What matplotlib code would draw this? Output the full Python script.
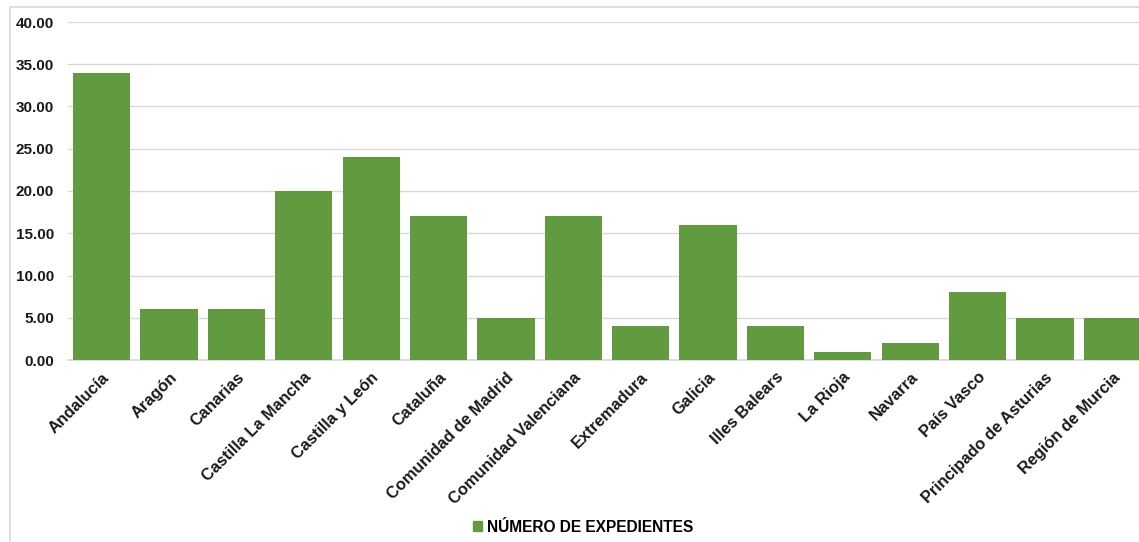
"""
Número de expedientes por comunidad autónoma
"""

import matplotlib
matplotlib.use("Agg")
import matplotlib.pyplot as plt
import numpy as np
from matplotlib.patches import Rectangle

plt.rcParams["font.family"] = ["Liberation Sans", "DejaVu Sans"]

# datos
comunidades = [
    "Andalucía", "Aragón", "Canarias", "Castilla La Mancha", "Castilla y León",
    "Cataluña", "Comunidad de Madrid", "Comunidad Valenciana", "Extremadura",
    "Galicia", "Illes Balears", "La Rioja", "Navarra", "País Vasco",
    "Principado de Asturias", "Región de Murcia",
]
expedientes = [34, 6, 6, 20, 24, 17, 5, 17, 4, 16, 4, 1, 2, 8, 5, 5]
serie = "NÚMERO DE EXPEDIENTES"
y_ticks = [0, 5, 10, 15, 20, 25, 30, 35, 40]

verde = "#629B3F"
gris = "#D9D9D9"

fig = plt.figure(figsize=(11.39, 5.42), dpi=100)

# marco del gráfico (recortado a la derecha y abajo)
fig.patches.append(Rectangle((10 / 1139, -0.1), 1.2, 1.1 - 7 / 542,
                             transform=fig.transFigure, fill=False,
                             edgecolor=gris, linewidth=1.2))

ax = fig.add_axes([68 / 1139, 1 - 360 / 542, 1078 / 1139, 338 / 542])
x = np.arange(len(comunidades))
ax.bar(x, expedientes, width=0.85, color=verde, label=serie, zorder=3)

ax.set_xlim(-0.5, len(comunidades) - 0.5)
ax.set_ylim(0, 40)
ax.set_yticks(y_ticks)
ax.set_yticklabels([f"{v:.2f}" for v in y_ticks], fontsize=11, fontweight="bold")
ax.set_xticks(x)
ax.set_xticklabels(comunidades, rotation=45, ha="right", rotation_mode="anchor",
                   fontsize=11.8, fontweight="bold")
ax.tick_params(axis="both", length=0, colors="#1a1a1a")
ax.tick_params(axis="y", pad=10)
ax.tick_params(axis="x", pad=7)

ax.grid(axis="y", color=gris, linewidth=1, zorder=0)
for s in ["top", "right", "left"]:
    ax.spines[s].set_visible(False)
ax.spines["bottom"].set_color(gris)
ax.spines["bottom"].set_linewidth(1.2)

fig.legend(handles=[Rectangle((0, 0), 1, 1, color=verde)], labels=[serie],
           loc="center", bbox_to_anchor=(583 / 1139, 1 - 527 / 542),
           frameon=False, handlelength=0.6, handleheight=0.6, handletextpad=0.3,
           prop={"size": 11.2, "weight": "bold"})

fig.savefig("out.png", dpi=100)
plt.close()
